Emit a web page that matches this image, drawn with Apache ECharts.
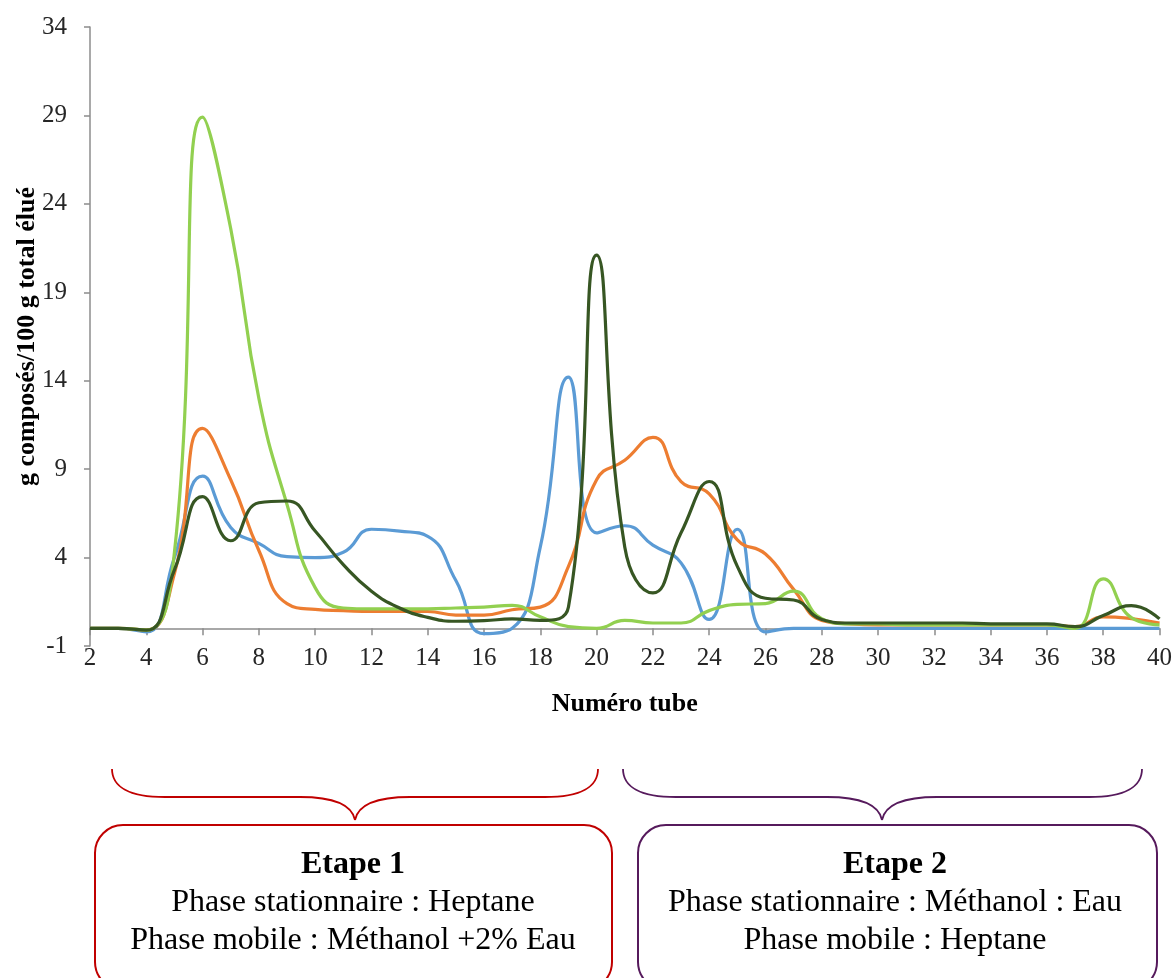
<!DOCTYPE html>
<html><head><meta charset="utf-8">
<script src="https://cdn.jsdelivr.net/npm/echarts@6/dist/echarts.min.js"></script>
<style>html,body{margin:0;padding:0;background:#fff}#c{width:1175px;height:978px}</style>
</head><body><div id="c"></div>
<script>
const tubes = ['2','3','4','5','6','7','8','9','10','11','12','13','14','15','16','17','18','19','20','21','22','23','24','25','26','27','28','29','30','31','32','33','34','35','36','37','38','39','40'];
const blue = [0,0,-0.2,4.0,8.6,5.7,4.8,4.05,4.0,4.3,5.6,5.5,5.2,2.7,-0.3,0.0,4.6,14.2,5.4,5.8,4.7,3.7,0.5,5.6,-0.2,0,0,0,0,0,0,0,0,0,0,0,0,0,0];
const orange = [0,0,-0.1,3.1,11.3,8.4,4.4,1.4,1.07,1.0,0.95,0.95,0.95,0.75,0.75,1.05,1.2,3.5,8.4,9.5,10.8,8.3,7.6,5.0,4.2,2.2,0.45,0.25,0.2,0.2,0.2,0.2,0.2,0.2,0.2,0.1,0.65,0.55,0.3];
const lightGreen = [0,0,-0.1,4.3,28.9,22.6,13.0,7.0,2.3,1.15,1.1,1.1,1.1,1.15,1.2,1.3,0.65,0.1,0.0,0.45,0.3,0.3,1.0,1.35,1.4,2.1,0.55,0.25,0.25,0.2,0.2,0.2,0.2,0.2,0.2,0.0,2.8,0.6,0.2];
const darkGreen = [0,0,-0.1,3.3,7.45,4.95,7.1,7.2,5.5,3.6,2.1,1.15,0.62,0.4,0.43,0.53,0.45,1.2,21.1,4.6,2.0,5.4,8.3,3.5,1.7,1.6,0.5,0.3,0.3,0.3,0.3,0.3,0.25,0.25,0.25,0.1,0.72,1.28,0.53];
const yMin = -1, yMax = 34, yStep = 5;
const xTitle = 'Numéro tube';
const yTitle = 'g composés/100 g total élué';
const step1 = ['Etape 1', 'Phase stationnaire : Heptane', 'Phase mobile : Méthanol +2% Eau'];
const step2 = ['Etape 2', 'Phase stationnaire : Méthanol : Eau', 'Phase mobile : Heptane'];

const FONT = '"Liberation Serif", "Times New Roman", serif';
const axisColor = '#8c8c8c';
const chart = echarts.init(document.getElementById('c'));

function mkSeries(name, data, color) {
  return {name, type:'line', data, smooth:0.5, showSymbol:false, symbol:'none',
    lineStyle:{color, width:3.2}, itemStyle:{color}};
}
function boxText(lines, cx) {
  return lines.map((t, i) => ({
    type:'text', x:cx, y:865 + i*38,
    style:{text:t, font:(i===0?'bold ':'') + '32px ' + FONT, fill:'#000', align:'center', verticalAlign:'middle'}
  }));
}
// curly brace built from bezier/line pieces
function brace(x0, x1, cx, color) {
  const yTop = 769, yMid = 797, yTip = 820;
  const st = {fill:null, stroke:color, lineWidth:1.8};
  const bz = (x1_, y1_, c1x, c1y, c2x, c2y, x2_, y2_) => ({type:'bezierCurve',
    shape:{x1:x1_, y1:y1_, cpx1:c1x, cpy1:c1y, cpx2:c2x, cpy2:c2y, x2:x2_, y2:y2_}, style:st});
  const ln = (a, b) => ({type:'line', shape:{x1:a, y1:yMid, x2:b, y2:yMid}, style:st});
  return [
    bz(x0, yTop, x0, yTop+17, x0+16, yMid, x0+53, yMid),
    ln(x0+53, cx-55),
    bz(cx-55, yMid, cx-20, yMid, cx-3, yMid+8, cx, yTip),
    bz(cx, yTip, cx+3, yMid+8, cx+20, yMid, cx+55, yMid),
    ln(cx+55, x1-53),
    bz(x1-53, yMid, x1-16, yMid, x1, yTop+17, x1, yTop)
  ];
}

const option = {
  animation:false,
  backgroundColor:'#fff',
  grid:{left:90, right:15, top:27, bottom:332, containLabel:false},
  xAxis:{
    type:'category', data:tubes, boundaryGap:false,
    axisLine:{onZero:true, lineStyle:{color:axisColor, width:1.5}},
    axisTick:{show:true, interval:1, length:7, lineStyle:{color:axisColor, width:1.5}},
    axisLabel:{interval:1, margin:0, fontFamily:FONT, fontSize:25, color:'#262626'},
    splitLine:{show:false},
    name:xTitle, nameLocation:'middle', nameGap:45, nameMoveOverlap:false,
    nameTextStyle:{fontFamily:FONT, fontWeight:'bold', fontSize:26, color:'#000'}
  },
  yAxis:{
    type:'value', min:yMin, max:yMax, interval:yStep,
    axisLine:{show:true, lineStyle:{color:axisColor, width:1.5}},
    axisTick:{show:true, length:6, lineStyle:{color:axisColor, width:1.5}},
    axisLabel:{margin:23, fontFamily:FONT, fontSize:25, color:'#262626'},
    splitLine:{show:false},
    name:yTitle, nameLocation:'middle', nameGap:50, nameMoveOverlap:false,
    nameTextStyle:{fontFamily:FONT, fontWeight:'bold', fontSize:26, color:'#000'}
  },
  series:[
    mkSeries('s1', blue, '#5B9BD5'),
    mkSeries('s2', orange, '#ED7D31'),
    mkSeries('s3', lightGreen, '#92D050'),
    mkSeries('s4', darkGreen, '#375623')
  ],
  graphic:[
    ...brace(112, 598, 355, '#c00000'),
    ...brace(623, 1142, 882, '#561a5c'),
    {type:'rect', shape:{x:95, y:825, width:517, height:165, r:28}, style:{fill:null, stroke:'#c00000', lineWidth:2}},
    {type:'rect', shape:{x:638, y:825, width:519, height:165, r:28}, style:{fill:null, stroke:'#561a5c', lineWidth:2}},
    ...boxText(step1, 353),
    ...boxText(step2, 895)
  ]
};
chart.setOption(option);
</script></body></html>
